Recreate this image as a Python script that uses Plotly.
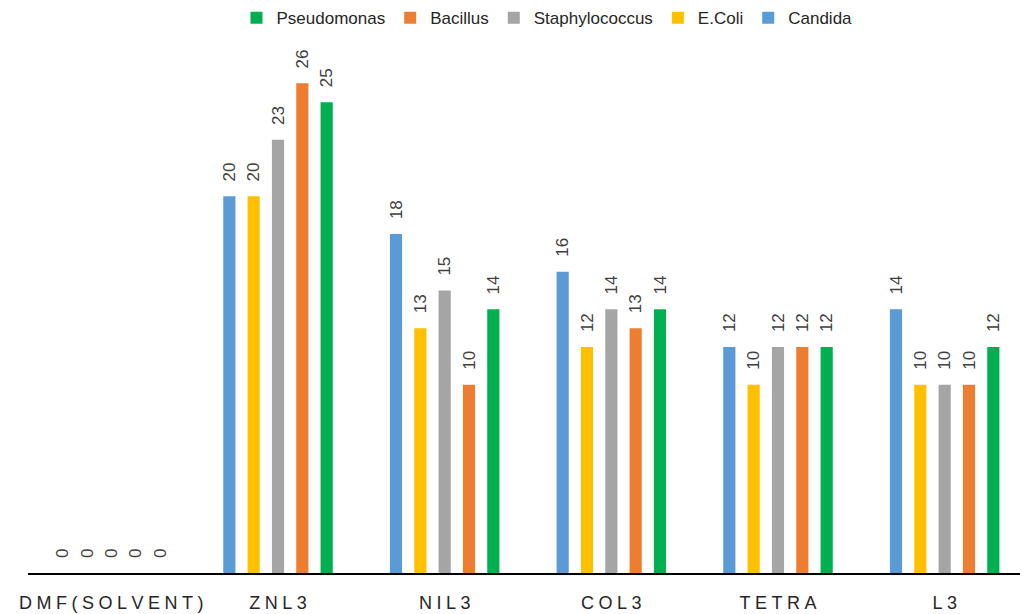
import plotly.graph_objects as go

categories = ["DMF(SOLVENT)", "ZNL3", "NIL3", "COL3", "TETRA", "L3"]
candida = [0, 20, 18, 16, 12, 14]
ecoli = [0, 20, 13, 12, 10, 10]
staphylococcus = [0, 23, 15, 14, 12, 10]
bacillus = [0, 26, 10, 13, 12, 10]
pseudomonas = [0, 25, 14, 14, 12, 12]

series = [
    ("Candida", candida, "#5B9BD5"),
    ("E.Coli", ecoli, "#FFC000"),
    ("Staphylococcus", staphylococcus, "#A5A5A5"),
    ("Bacillus", bacillus, "#ED7D31"),
    ("Pseudomonas", pseudomonas, "#00B050"),
]

spaced = ["\u2005".join(list(c)) for c in categories]

fig = go.Figure()
for name, vals, color in series:
    fig.add_trace(go.Bar(
        x=categories, y=vals, name=name,
        marker=dict(color=color, line=dict(width=0)),
        text=["\u2002\u2009" + str(v) for v in vals], textposition="outside",
        textangle=-90, cliponaxis=False, constraintext="none",
        textfont=dict(family="Liberation Sans, Arial", size=17, color="#404040"),
    ))

# page body adds an 8px offset, so the figure is 8px smaller on each axis
fig.update_layout(
    width=1020, height=606,
    margin=dict(l=20, r=0, t=0, b=41, autoexpand=False),
    paper_bgcolor="white", plot_bgcolor="white",
    barmode="group", bargap=0.27, bargroupgap=0.5,
    showlegend=True,
    legend=dict(orientation="h", traceorder="reversed", x=0.519, xanchor="center",
                y=0.982, yanchor="middle", bgcolor="rgba(0,0,0,0)",
                font=dict(family="Liberation Sans, Arial", size=17, color="#262626"),
                itemwidth=30, tracegroupgap=0),
    font=dict(family="Liberation Sans, Arial"),
)
fig.update_xaxes(
    tickmode="array", tickvals=categories, ticktext=spaced,
    showline=True, linecolor="black", linewidth=2,
    ticks="outside", ticklen=12, tickcolor="rgba(0,0,0,0)",
    tickfont=dict(family="Liberation Sans, Arial", size=18, color="#262626"),
    showgrid=False, zeroline=False, automargin=False,
)
fig.update_yaxes(range=[0, 30], visible=False, showgrid=False, zeroline=False)

fig.write_html("out.html")
